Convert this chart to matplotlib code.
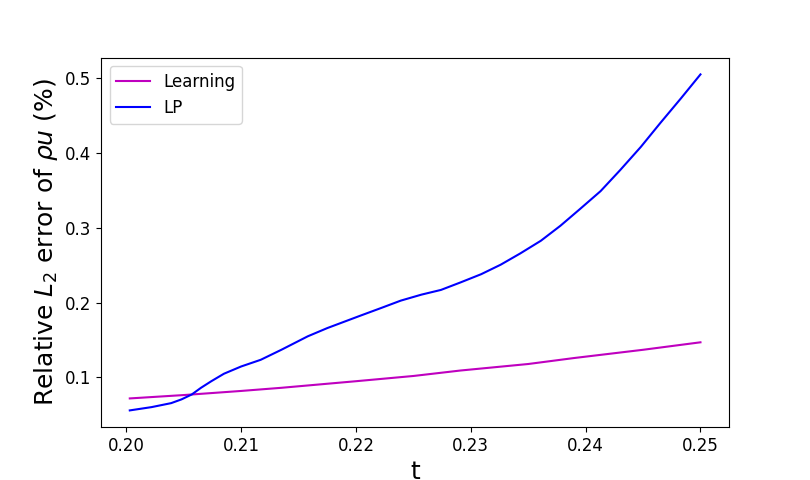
import matplotlib
matplotlib.use("Agg")
import matplotlib.pyplot as plt

t_lp = [0.2003, 0.2022, 0.2039, 0.2048, 0.2057, 0.2065, 0.2074, 0.2085, 0.2100,
        0.2117, 0.2135, 0.2158, 0.2175, 0.2204, 0.2222, 0.2239, 0.2257, 0.2274,
        0.2291, 0.2309, 0.2326, 0.2343, 0.2361, 0.2378, 0.2395, 0.2413, 0.2430,
        0.2448, 0.2465, 0.2483, 0.2500]
lp = [0.056, 0.0604, 0.0657, 0.0707, 0.0773, 0.0862, 0.095, 0.105, 0.1147,
      0.1236, 0.137, 0.155, 0.166, 0.1827, 0.1929, 0.2027, 0.2107, 0.217,
      0.227, 0.238, 0.2507, 0.2657, 0.2827, 0.3027, 0.325, 0.349, 0.377,
      0.408, 0.440, 0.473, 0.505]

t_learn = [0.2003, 0.205, 0.21, 0.2135, 0.22, 0.225, 0.2291, 0.235, 0.239, 0.245, 0.25]
learning = [0.072, 0.0765, 0.082, 0.0862, 0.095, 0.102, 0.1093, 0.118, 0.126, 0.137, 0.147]

fig, ax = plt.subplots(figsize=(8.1, 4.8), dpi=100)
ax.plot(t_learn, learning, color='m', label='Learning')
ax.plot(t_lp, lp, color='b', label='LP')
ax.set_xlabel('t', fontsize=18)
ax.set_ylabel(r'Relative $L_2$ error of $\rho u$ (%)', fontsize=18)
ax.tick_params(labelsize=12)
ax.legend(fontsize=12, loc='upper left')
fig.savefig('out.png', dpi=100)
